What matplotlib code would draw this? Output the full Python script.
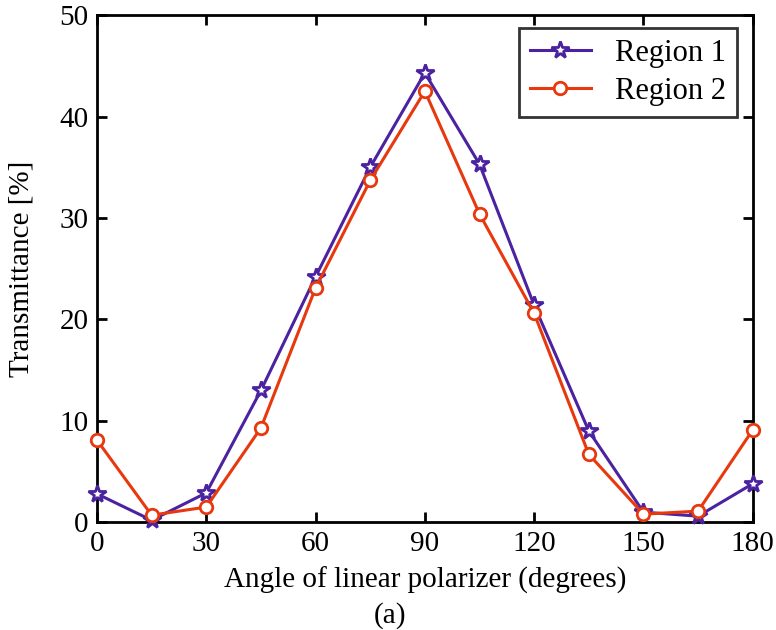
import matplotlib
matplotlib.use('Agg')
import matplotlib.pyplot as plt

plt.rcParams['font.family'] = 'Liberation Serif'
plt.rcParams['mathtext.fontset'] = 'stix'

angle = [0, 15, 30, 45, 60, 75, 90, 105, 120, 135, 150, 165, 180]
region1 = [2.8, 0.2, 2.9, 13.0, 24.2, 35.0, 44.3, 35.3, 21.4, 9.0, 1.0, 0.6, 3.8]
region2 = [8.1, 0.7, 1.5, 9.3, 23.1, 33.7, 42.5, 30.4, 20.6, 6.7, 0.8, 1.1, 9.1]

purple = '#4b22a0'
orange = '#e8380e'

fig = plt.figure(figsize=(7.76, 6.3), dpi=100)
ax = fig.add_axes([0.125, 0.171, 0.845, 0.805])

ax.plot(angle, region1, color=purple, lw=2.2, marker='*', ms=13,
        markerfacecolor='white', markeredgecolor=purple, markeredgewidth=2,
        label='Region 1', clip_on=False, zorder=3)
ax.plot(angle, region2, color=orange, lw=2.2, marker='o', ms=9,
        markerfacecolor='white', markeredgecolor=orange, markeredgewidth=2,
        label='Region 2', clip_on=False, zorder=4)

ax.set_xlim(0, 180)
ax.set_ylim(0, 50)
ax.set_xticks([0, 30, 60, 90, 120, 150, 180])
ax.set_yticks([0, 10, 20, 30, 40, 50])
ax.tick_params(direction='in', top=True, right=True, length=7, width=2,
               labelsize=21, pad=6)
for s in ax.spines.values():
    s.set_linewidth(2)

ax.set_xlabel('Angle of linear polarizer (degrees)', fontsize=21, labelpad=7)
ax.set_ylabel('Transmittance [%]', fontsize=21, labelpad=18)
fig.text(0.503, 0.002, '(a)', fontsize=21, ha='center', va='bottom')

leg = ax.legend(loc='upper right', fontsize=22, frameon=True, fancybox=False,
                edgecolor='black', borderpad=0.35, handlelength=2.0,
                labelspacing=0.3, handletextpad=0.8, borderaxespad=0,
                bbox_to_anchor=(0.976, 0.974))
leg.get_frame().set_linewidth(2)

fig.savefig('out.png', dpi=100)
